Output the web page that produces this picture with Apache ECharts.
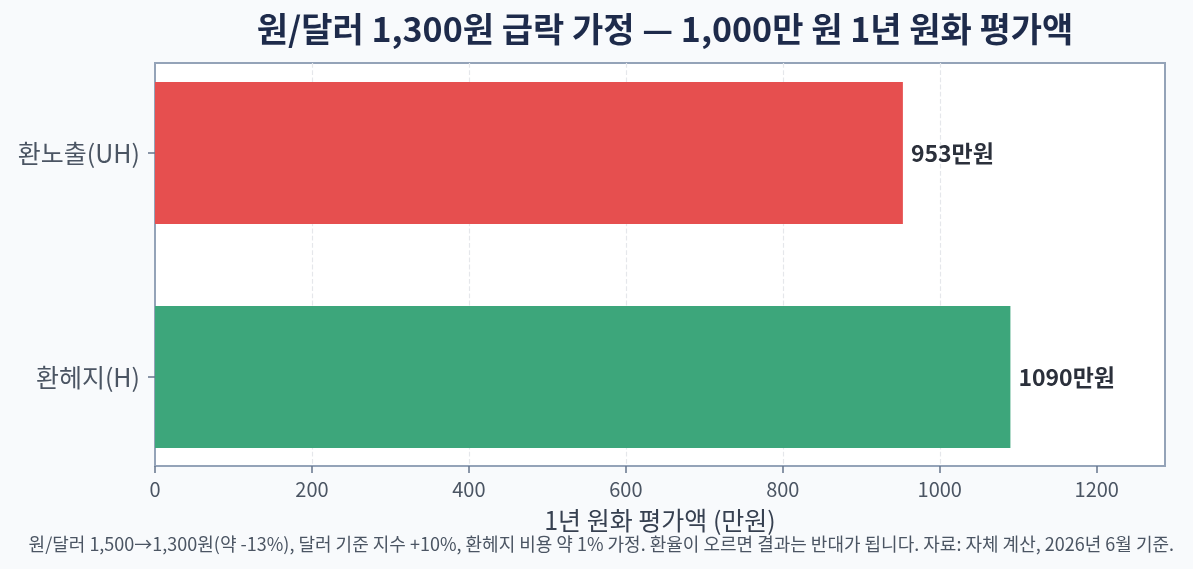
<!DOCTYPE html>
<html>
<head>
<meta charset="utf-8">
<script src="https://cdn.jsdelivr.net/npm/echarts@6/dist/echarts.min.js"></script>
<style>
  html, body { margin: 0; padding: 0; background: #f8fafc; }
  #chart { width: 1193px; height: 569px; }
</style>
</head>
<body>
<div id="chart"></div>
<script>
const categories = ['환헤지(H)', '환노출(UH)']
const values = [1090, 953]
const barColors = ['#3da67b', '#e64f4f']
const xTicks = [0, 200, 400, 600, 800, 1000, 1200]

const font = '"Noto Sans CJK KR", "Noto Sans", sans-serif'
const xMax = 1287
const myChart = echarts.init(document.getElementById('chart'))

// grid 0 holds the bars (taller so the bands sit like the reference),
// grid 1 is the visible frame with the x axis
myChart.setOption({
  backgroundColor: '#f8fafc',
  textStyle: { fontFamily: font },
  title: [{
    text: '원/달러 1,300원 급락 가정 — 1,000만 원 1년 원화 평가액',
    left: 660, top: 7, textAlign: 'center',
    textStyle: { fontSize: 34, fontWeight: 'bold', color: '#1e2b4b', fontFamily: font }
  }, {
    text: '원/달러 1,500→1,300원(약 -13%), 달러 기준 지수 +10%, 환헤지 비용 약 1% 가정. 환율이 오르면 결과는 반대가 됩니다. 자료: 자체 계산, 2026년 6월 기준.',
    right: 14, top: 530,
    textStyle: { fontSize: 18, fontWeight: 'normal', color: '#4b5563', fontFamily: font }
  }],
  grid: [
    { left: 155, right: 28, top: 41, bottom: 80, show: false },
    { left: 155, right: 28, top: 63, bottom: 103, show: true, backgroundColor: '#ffffff', borderColor: '#94a3b8', borderWidth: 2 }
  ],
  xAxis: [{
    gridIndex: 0, type: 'value', min: 0, max: xMax, show: false
  }, {
    gridIndex: 1, type: 'value', min: 0, max: xMax, interval: 200,
    name: '1년 원화 평가액 (만원)', nameLocation: 'middle', nameGap: 42,
    nameTextStyle: { fontSize: 25, color: '#374151', fontFamily: font },
    axisLine: { show: true, lineStyle: { color: '#94a3b8', width: 2 } },
    axisTick: { show: true, customValues: xTicks, length: 7, lineStyle: { color: '#64748b', width: 1.5 } },
    axisLabel: {
      fontSize: 20, color: '#4b5563', margin: 13,
      customValues: xTicks,
      formatter: v => String(v)
    },
    splitLine: { show: true, showMinLine: false, showMaxLine: false, lineStyle: { color: '#e5e7eb', type: 'dashed', width: 1.2 } }
  }],
  yAxis: [{
    gridIndex: 0, type: 'category', data: categories,
    axisLine: { show: false },
    axisTick: { show: true, alignWithLabel: true, length: 7, lineStyle: { color: '#64748b', width: 1.5 } },
    axisLabel: { fontSize: 25, color: '#4b5563', margin: 15 }
  }, {
    gridIndex: 1, type: 'value', show: false
  }],
  series: [{
    type: 'bar',
    xAxisIndex: 0, yAxisIndex: 0,
    barWidth: 142,
    data: values.map((v, i) => ({ value: v, itemStyle: { color: barColors[i] } })),
    label: {
      show: true, position: 'right', distance: 8,
      formatter: p => p.value + '만원',
      fontSize: 23, fontWeight: 'bold', color: '#2b303b'
    }
  }]
})
</script>
</body>
</html>
